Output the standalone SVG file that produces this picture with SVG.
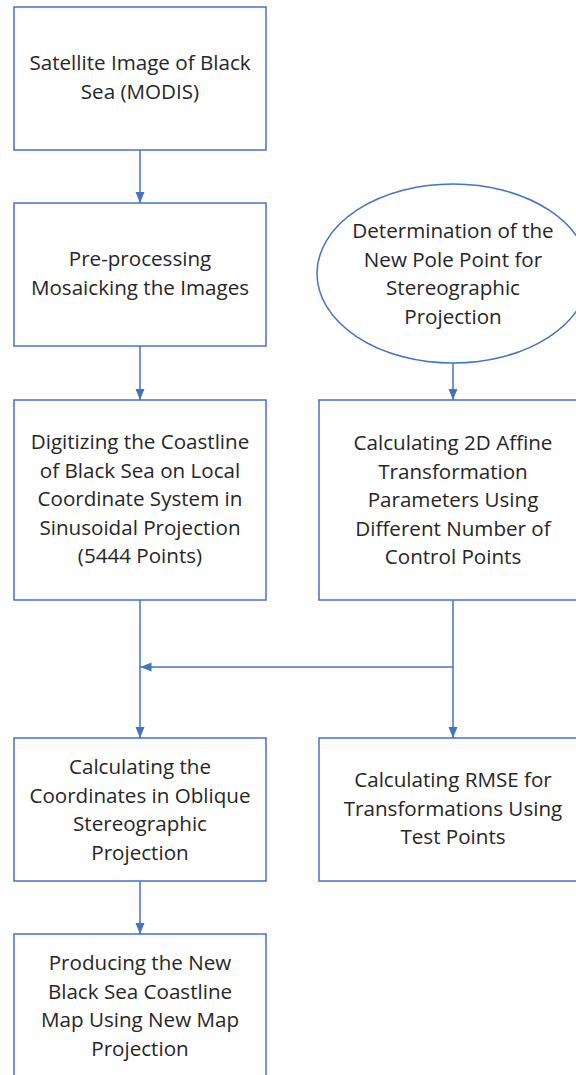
<svg xmlns="http://www.w3.org/2000/svg" width="576" height="1075" viewBox="0 0 576 1075">
<style>
.box{fill:#fff;stroke:#4472C4;stroke-width:1.5}
.con{fill:none;stroke:#4472C4;stroke-width:1.5}
text{font-family:"Open Sans","Liberation Sans",sans-serif;font-size:20.6px;fill:#262626;text-anchor:middle}
</style>
<defs>
<marker id="ah" markerUnits="userSpaceOnUse" markerWidth="12" markerHeight="12" viewBox="0 0 12 12" refX="11" refY="6" orient="auto">
<path d="M0,1.5 L11,6 L0,10.5 Z" fill="#4472C4"/>
</marker>
</defs>
<rect width="576" height="1075" fill="#fff"/>
<g id="connectors">
<line class="con" x1="140" y1="150" x2="140" y2="203" marker-end="url(#ah)"/>
<line class="con" x1="140" y1="346" x2="140" y2="400" marker-end="url(#ah)"/>
<line class="con" x1="453" y1="363" x2="453" y2="400" marker-end="url(#ah)"/>
<line class="con" x1="140" y1="600" x2="140" y2="738" marker-end="url(#ah)"/>
<line class="con" x1="453" y1="600" x2="453" y2="738" marker-end="url(#ah)"/>
<line class="con" x1="453" y1="667" x2="140.5" y2="667" marker-end="url(#ah)"/>
<line class="con" x1="140" y1="881" x2="140" y2="934" marker-end="url(#ah)"/>
</g>
<g id="n1">
<rect class="box" x="14" y="7" width="252" height="143"/>
<text x="140" y="70">Satellite Image of Black</text>
<text x="140" y="98.5">Sea (MODIS)</text>
</g>
<g id="n2">
<rect class="box" x="14" y="203" width="252" height="143"/>
<text x="140" y="266">Pre-processing</text>
<text x="140" y="294.5">Mosaicking the Images</text>
</g>
<g id="n3">
<ellipse class="box" cx="453" cy="273.5" rx="136" ry="89.5"/>
<text x="453" y="238">Determination of the</text>
<text x="453" y="266.5">New Pole Point for</text>
<text x="453" y="295">Stereographic</text>
<text x="453" y="323.5">Projection</text>
</g>
<g id="n4">
<rect class="box" x="14" y="400" width="252" height="200"/>
<text x="140" y="449">Digitizing the Coastline</text>
<text x="140" y="477.5">of Black Sea on Local</text>
<text x="140" y="506">Coordinate System in</text>
<text x="140" y="534.5">Sinusoidal Projection</text>
<text x="140" y="563">(5444 Points)</text>
</g>
<g id="n5">
<rect class="box" x="319" y="400" width="268" height="200"/>
<text x="453" y="450">Calculating 2D Affine</text>
<text x="453" y="478.5">Transformation</text>
<text x="453" y="507">Parameters Using</text>
<text x="453" y="535.5">Different Number of</text>
<text x="453" y="564">Control Points</text>
</g>
<g id="n6">
<rect class="box" x="14" y="738" width="252" height="143"/>
<text x="140" y="774">Calculating the</text>
<text x="140" y="802.5">Coordinates in Oblique</text>
<text x="140" y="831">Stereographic</text>
<text x="140" y="859.5">Projection</text>
</g>
<g id="n7">
<rect class="box" x="319" y="738" width="268" height="143"/>
<text x="453" y="787">Calculating RMSE for</text>
<text x="453" y="815.5">Transformations Using</text>
<text x="453" y="844">Test Points</text>
</g>
<g id="n8">
<rect class="box" x="14" y="934" width="252" height="160"/>
<text x="140" y="970">Producing the New</text>
<text x="140" y="998.5">Black Sea Coastline</text>
<text x="140" y="1027">Map Using New Map</text>
<text x="140" y="1055.5">Projection</text>
</g>
</svg>
